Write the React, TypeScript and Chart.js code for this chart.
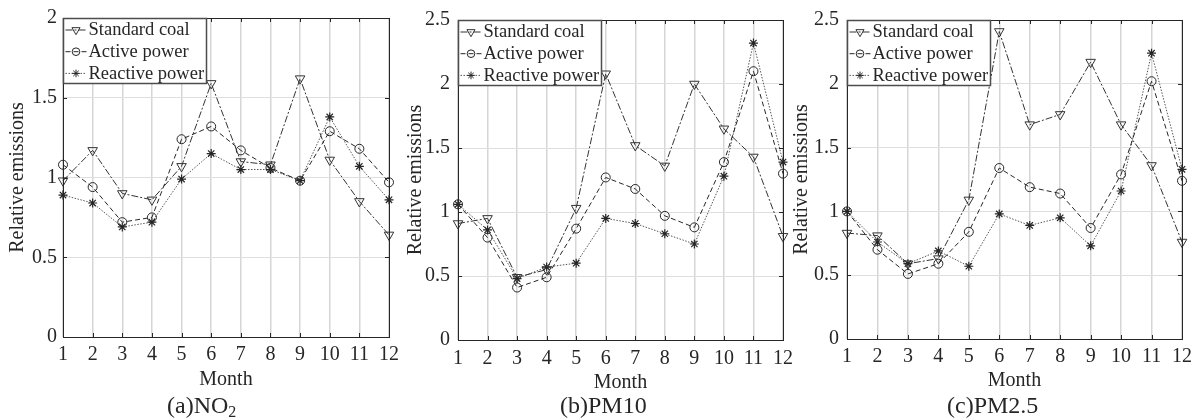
import React, { useEffect, useRef } from 'react';
import { Chart, registerables } from 'chart.js';
import { drawPoint } from 'chart.js/helpers';

Chart.register(...registerables);

const FONT = "'Liberation Serif', 'Times New Roman', serif";

const months = ['1', '2', '3', '4', '5', '6', '7', '8', '9', '10', '11', '12'];
const seriesLabels = ['Standard coal', 'Active power', 'Reactive power'];

const coalNO2 = [0.98, 1.17, 0.9, 0.86, 1.07, 1.59, 1.1, 1.08, 1.62, 1.11, 0.85, 0.64];
const activeNO2 = [1.08, 0.94, 0.72, 0.75, 1.24, 1.32, 1.17, 1.06, 0.98, 1.29, 1.18, 0.97];
const reactiveNO2 = [0.89, 0.84, 0.69, 0.72, 0.99, 1.15, 1.05, 1.05, 0.98, 1.38, 1.07, 0.86];

const coalPM10 = [0.91, 0.95, 0.49, 0.55, 1.03, 2.08, 1.52, 1.36, 2.0, 1.65, 1.43, 0.81];
const activePM10 = [1.06, 0.8, 0.41, 0.49, 0.87, 1.27, 1.18, 0.97, 0.88, 1.39, 2.1, 1.3];
const reactivePM10 = [1.06, 0.86, 0.48, 0.57, 0.6, 0.95, 0.91, 0.83, 0.75, 1.28, 2.32, 1.39];

const coalPM25 = [0.83, 0.81, 0.59, 0.63, 1.09, 2.41, 1.68, 1.76, 2.17, 1.68, 1.36, 0.76];
const activePM25 = [1.0, 0.7, 0.51, 0.59, 0.84, 1.34, 1.19, 1.14, 0.87, 1.29, 2.02, 1.24];
const reactivePM25 = [1.0, 0.76, 0.59, 0.69, 0.57, 0.98, 0.89, 0.95, 0.73, 1.16, 2.24, 1.33];

const yMaxNO2 = 2;
const yMaxPM = 2.5;
const yStep = 0.5;

const xTitle = 'Month';
const yTitle = 'Relative emissions';

const TEXT = '#262626';

const framePlugin = {
  id: 'frame',
  afterDatasetsDraw(chart: any) {
    const { ctx, chartArea: a, scales } = chart;
    ctx.save();
    ctx.strokeStyle = '#262626';
    ctx.lineWidth = 1;
    ctx.setLineDash([]);
    ctx.strokeRect(Math.round(a.left) + 0.5, Math.round(a.top) + 0.5, Math.round(a.right - a.left), Math.round(a.bottom - a.top));
    const tl = 4;
    ctx.beginPath();
    scales.x.ticks.forEach((_: any, i: number) => {
      const px = Math.round(scales.x.getPixelForTick(i)) + 0.5;
      ctx.moveTo(px, a.bottom);
      ctx.lineTo(px, a.bottom - tl);
      ctx.moveTo(px, a.top);
      ctx.lineTo(px, a.top + tl);
    });
    scales.y.ticks.forEach((t: any) => {
      const py = Math.round(scales.y.getPixelForValue(t.value)) + 0.5;
      ctx.moveTo(a.left, py);
      ctx.lineTo(a.left + tl, py);
      ctx.moveTo(a.right, py);
      ctx.lineTo(a.right - tl, py);
    });
    ctx.stroke();
    ctx.restore();
  },
};

const legendPlugin = {
  id: 'boxLegend',
  afterDraw(chart: any) {
    const { ctx, chartArea: a } = chart;
    const ds = chart.data.datasets;
    ctx.save();
    ctx.font = `18.5px ${FONT}`;
    const maxW = Math.max(...ds.map((d: any) => ctx.measureText(d.label).width));
    const x0 = Math.round(a.left) + 0.5;
    const y0 = Math.round(a.top) + 0.5;
    const w = Math.round(25 + maxW + 2);
    const h = 65;
    ctx.fillStyle = '#ffffff';
    ctx.fillRect(x0, y0, w, h);
    ctx.strokeStyle = '#4d4d4d';
    ctx.lineWidth = 1.5;
    ctx.strokeRect(x0, y0, w, h);
    ds.forEach((d: any, i: number) => {
      const cy = y0 + 11.5 + i * 21.7;
      ctx.setLineDash(d.borderDash || []);
      ctx.strokeStyle = d.borderColor;
      ctx.lineWidth = 1;
      ctx.beginPath();
      ctx.moveTo(x0 + 2, cy);
      ctx.lineTo(x0 + 23, cy);
      ctx.stroke();
      ctx.setLineDash([]);
      ctx.strokeStyle = d.pointBorderColor;
      ctx.fillStyle = d.pointBackgroundColor;
      drawPoint(ctx, { pointStyle: d.pointStyle, rotation: d.pointRotation || 0, radius: d.pointRadius * 0.85, borderWidth: 1 }, x0 + 12.5, cy);
      ctx.fillStyle = TEXT;
      ctx.textBaseline = 'middle';
      ctx.textAlign = 'left';
      ctx.fillText(d.label, x0 + 25, cy + 0.5);
    });
    ctx.restore();
  },
};

type Panel = {
  canvasX: number;
  width: number;
  plotLeft: number;
  plotRight: number;
  plotBottom: number;
  xLabelY: number;
  monthY: number;
  yTitleX: number;
  yTickPad: number;
  yMax: number;
  coal: number[];
  active: number[];
  reactive: number[];
};

const panels: Panel[] = [
  { canvasX: 0, width: 410, plotLeft: 63, plotRight: 389, plotBottom: 337, xLabelY: 355, monthY: 380, yTitleX: 18, yTickPad: 6, yMax: yMaxNO2, coal: coalNO2, active: activeNO2, reactive: reactiveNO2 },
  { canvasX: 395, width: 405, plotLeft: 458, plotRight: 783, plotBottom: 340, xLabelY: 359, monthY: 383, yTitleX: 416, yTickPad: 8, yMax: yMaxPM, coal: coalPM10, active: activePM10, reactive: reactivePM10 },
  { canvasX: 785, width: 413, plotLeft: 847, plotRight: 1183, plotBottom: 339, xLabelY: 357, monthY: 381, yTitleX: 802, yTickPad: 8, yMax: yMaxPM, coal: coalPM25, active: activePM25, reactive: reactivePM25 },
];

function PanelChart({ p }: { p: Panel }) {
  const ref = useRef<HTMLCanvasElement>(null);
  useEffect(() => {
    if (!ref.current) return;
    const H = 420;
    const yWidth = p.plotLeft - p.canvasX;
    const padRight = p.canvasX + p.width - p.plotRight;
    const xH = H - p.plotBottom;
    const xTickPad = p.xLabelY - 12 - p.plotBottom;
    const monthPad = H - p.monthY - 12;
    const yTitlePad = p.yTitleX - p.canvasX - 12;
    const chart = new Chart(ref.current, {
      type: 'line',
      data: {
        labels: months,
        datasets: [
          {
            label: seriesLabels[0],
            data: p.coal,
            borderColor: '#333333',
            borderWidth: 1,
            borderDash: [7, 2, 2, 2],
            pointStyle: 'triangle',
            pointRotation: 180,
            pointRadius: 5.5,
            pointBorderWidth: 1,
            pointBorderColor: '#333333',
            pointBackgroundColor: 'rgba(0,0,0,0)',
            fill: false,
            tension: 0,
          } as any,
          {
            label: seriesLabels[1],
            data: p.active,
            borderColor: '#262626',
            borderWidth: 1,
            borderDash: [5, 3],
            pointStyle: 'circle',
            pointRadius: 4.5,
            pointBorderWidth: 1,
            pointBorderColor: '#262626',
            pointBackgroundColor: 'rgba(0,0,0,0)',
            fill: false,
            tension: 0,
          },
          {
            label: seriesLabels[2],
            data: p.reactive,
            borderColor: '#555555',
            borderWidth: 1,
            borderDash: [1.5, 1.5],
            pointStyle: 'star',
            pointRadius: 4.5,
            pointBorderWidth: 1.2,
            pointBorderColor: '#262626',
            pointBackgroundColor: '#262626',
            fill: false,
            tension: 0,
          },
        ],
      },
      options: {
        responsive: false,
        maintainAspectRatio: false,
        animation: false,
        devicePixelRatio: 1,
        events: [],
        layout: { padding: { left: 0, right: padRight, top: 14, bottom: 0 } },
        plugins: {
          legend: { display: false },
          tooltip: { enabled: false },
          title: { display: false },
        },
        scales: {
          x: {
            type: 'category',
            offset: false,
            grid: { color: '#d6d6d6', lineWidth: 1.5, drawTicks: false, offset: false },
            border: { display: false },
            ticks: {
              autoSkip: false,
              maxRotation: 0,
              minRotation: 0,
              padding: xTickPad,
              color: TEXT,
              font: { family: FONT, size: 20 },
            },
            title: {
              display: true,
              text: xTitle,
              color: TEXT,
              font: { family: FONT, size: 20 },
              padding: { top: 0, bottom: monthPad },
            },
            afterFit: (s: any) => {
              s.height = xH;
            },
          },
          y: {
            type: 'linear',
            min: 0,
            max: p.yMax,
            grid: { color: '#dedede', lineWidth: 1, drawTicks: false },
            border: { display: false },
            ticks: {
              stepSize: yStep,
              padding: p.yTickPad,
              color: TEXT,
              font: { family: FONT, size: 20 },
              callback: (v: any) => String(Math.round(Number(v) * 10) / 10),
            },
            title: {
              display: true,
              text: yTitle,
              color: TEXT,
              font: { family: FONT, size: 20 },
              padding: { top: yTitlePad, bottom: 0 },
            },
            afterFit: (s: any) => {
              s.width = yWidth;
            },
          },
        },
      },
      plugins: [framePlugin, legendPlugin],
    });
    return () => chart.destroy();
  }, [p]);
  return (
    <canvas
      ref={ref}
      width={p.width}
      height={420}
      style={{ position: 'absolute', left: p.canvasX, top: 0, width: p.width, height: 420 }}
    />
  );
}

const captionStyle: React.CSSProperties = {
  position: 'absolute',
  top: 393,
  fontFamily: FONT,
  fontSize: 24,
  lineHeight: '24px',
  color: TEXT,
  whiteSpace: 'nowrap',
};

export default function App() {
  return (
    <div style={{ position: 'fixed', left: 0, top: 0, width: 1198, height: 420, background: '#ffffff', overflow: 'hidden' }}>
      {panels.map((p, i) => (
        <PanelChart key={i} p={p} />
      ))}
      <div style={{ ...captionStyle, left: 167 }}>
        (a)NO<span style={{ fontSize: 16, verticalAlign: -4 }}>2</span>
      </div>
      <div style={{ ...captionStyle, left: 560 }}>(b)PM10</div>
      <div style={{ ...captionStyle, left: 947 }}>(c)PM2.5</div>
    </div>
  );
}
